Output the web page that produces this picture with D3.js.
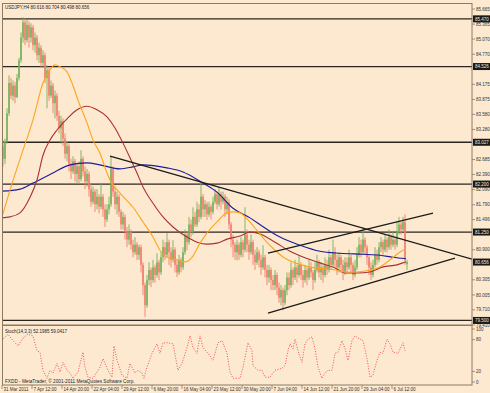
<!DOCTYPE html>
<html>
<head>
<meta charset="utf-8">
<script src="https://cdn.jsdelivr.net/npm/d3@7"></script>
<style>
  body { margin: 0; background: #fde9cf; }
  text { font-family: "Liberation Sans", Arial, sans-serif; }
</style>
</head>
<body>
<svg id="chart" width="490" height="393"></svg>
<script>
// USDJPY H4 candles: [open, high, low, close]
const candles = [
  [82.95,83.07,82.55,82.70],[82.70,83.10,82.60,83.05],[83.05,83.70,83.00,83.60],[83.60,84.35,83.55,84.20],
  [84.20,84.30,83.88,83.95],[83.95,84.25,83.85,84.15],[84.15,84.22,83.80,83.92],[83.92,84.38,83.90,84.30],
  [84.30,84.70,84.25,84.65],[84.65,85.20,84.60,85.10],[85.10,85.50,85.00,85.40],[85.40,85.48,84.95,85.05],
  [85.05,85.45,85.00,85.35],[85.35,85.42,84.90,85.10],[85.10,85.38,85.00,85.30],[85.30,85.35,84.85,84.95],
  [84.95,85.20,84.80,85.10],[85.10,85.15,84.65,84.75],[84.75,85.00,84.60,84.90],[84.90,84.95,84.50,84.60],
  [84.60,84.85,84.50,84.75],[84.75,84.80,84.20,84.30],[84.30,84.55,83.70,84.45],[84.45,84.50,83.85,83.95],
  [83.95,84.25,83.90,84.15],[84.15,84.20,83.60,83.80],[83.80,84.05,83.50,83.95],[83.95,84.00,83.45,83.55],
  [83.55,83.65,83.20,83.30],[83.30,83.55,83.00,83.45],[83.45,83.50,82.95,83.10],[83.10,83.20,82.70,82.80],
  [82.80,83.05,82.65,82.95],[82.95,83.00,82.45,82.60],[82.60,82.70,82.30,82.45],[82.45,82.75,82.40,82.65],
  [82.65,82.70,82.25,82.40],[82.40,82.60,82.20,82.55],[82.55,82.65,82.20,82.30],[82.30,82.87,82.25,82.70],
  [82.70,82.75,82.35,82.45],[82.45,82.55,82.10,82.25],[82.25,82.50,82.15,82.40],[82.40,82.45,81.95,82.10],
  [82.10,82.20,81.75,81.85],[81.85,82.15,81.80,82.05],[82.05,82.10,81.65,81.80],[81.80,82.10,81.70,81.95],
  [81.95,82.00,81.62,81.75],[81.75,82.22,81.70,81.95],[81.95,82.00,81.55,81.70],[81.70,81.80,81.35,81.50],
  [81.50,81.80,81.45,81.70],[81.70,81.95,81.60,81.80],[81.80,82.75,81.75,82.50],[82.50,82.55,81.95,82.05],
  [82.05,82.15,81.70,81.80],[81.80,82.05,81.60,81.95],[81.95,82.00,81.55,81.65],[81.65,81.70,81.30,81.40],
  [81.40,81.65,81.30,81.55],[81.55,81.60,81.10,81.25],[81.25,81.35,80.95,81.10],[81.10,81.40,81.00,81.25],
  [81.25,81.30,80.90,81.00],[81.00,81.10,80.75,80.85],[80.85,81.15,80.80,81.00],[81.00,81.05,80.70,80.80],
  [80.80,81.00,80.70,80.95],[80.95,81.00,80.45,80.60],[80.60,80.65,80.00,80.20],[80.20,80.25,79.57,79.80],
  [79.80,80.40,79.75,80.30],[80.30,80.65,80.20,80.50],[80.50,80.55,80.16,80.30],[80.30,80.70,80.25,80.55],
  [80.55,80.60,80.25,80.40],[80.40,80.83,80.35,80.65],[80.65,80.70,80.30,80.45],[80.45,80.85,80.40,80.75],
  [80.75,81.10,80.65,80.95],[80.95,81.05,80.70,80.80],[80.80,81.23,80.75,81.05],[81.05,81.10,80.60,80.85],
  [80.85,80.95,80.55,80.70],[80.70,81.09,80.65,80.90],[80.90,80.95,80.45,80.60],[80.60,80.70,80.36,80.45],
  [80.45,80.80,80.40,80.70],[80.70,80.75,80.45,80.55],[80.55,80.95,80.50,80.85],[80.85,81.30,80.80,81.20],
  [81.20,81.25,80.89,81.05],[81.05,81.55,81.00,81.40],[81.40,81.50,81.15,81.25],[81.25,81.74,81.20,81.55],
  [81.55,81.65,81.35,81.40],[81.40,81.85,81.35,81.70],[81.70,81.80,81.45,81.55],[81.55,82.22,81.50,81.95],
  [81.95,82.00,81.55,81.70],[81.70,81.88,81.55,81.80],[81.80,81.85,81.49,81.60],[81.60,81.85,81.55,81.75],
  [81.75,81.80,81.50,81.65],[81.65,81.95,81.60,81.85],[81.85,82.10,81.80,82.00],[82.00,82.05,81.70,81.80],
  [81.80,82.14,81.75,82.00],[82.00,82.05,81.70,81.85],[81.85,82.05,81.80,81.95],[81.95,82.00,81.55,81.70],
  [81.70,81.95,81.60,81.85],[81.85,81.90,81.30,81.40],[81.40,81.45,80.95,81.10],[81.10,81.20,80.75,81.00],
  [81.00,81.05,80.70,80.85],[80.85,81.10,80.69,81.00],[81.00,81.05,80.70,80.80],[80.80,81.15,80.75,81.05],
  [81.05,81.10,80.75,80.90],[80.90,81.74,80.85,81.20],[81.20,81.30,80.85,81.00],[81.00,81.10,80.70,80.85],
  [80.85,81.20,80.80,81.05],[81.05,81.10,80.60,80.80],[80.80,80.90,80.50,80.65],[80.65,80.95,80.60,80.85],
  [80.85,80.90,80.55,80.70],[80.70,80.80,80.40,80.55],[80.55,80.99,80.50,80.75],[80.75,80.80,80.35,80.50],
  [80.50,80.60,80.20,80.35],[80.35,80.60,80.25,80.50],[80.50,80.55,80.10,80.30],[80.30,80.40,80.10,80.20],
  [80.20,80.50,80.10,80.40],[80.40,80.45,80.00,80.15],[80.15,80.25,79.85,79.95],[79.95,80.20,79.80,80.10],
  [80.10,80.15,79.70,79.85],[79.85,80.20,79.80,80.10],[80.10,80.45,80.00,80.35],[80.35,80.45,80.10,80.20],
  [80.20,80.65,80.15,80.50],[80.50,80.55,80.20,80.35],[80.35,80.70,80.30,80.55],[80.55,80.60,80.25,80.40],
  [80.40,80.79,80.35,80.60],[80.60,80.65,80.30,80.40],[80.40,80.50,80.15,80.30],[80.30,80.60,80.25,80.50],
  [80.50,80.55,80.20,80.35],[80.35,80.70,80.30,80.55],[80.55,80.65,80.35,80.45],[80.45,80.50,80.10,80.30],
  [80.30,80.65,80.25,80.50],[80.50,80.80,80.45,80.65],[80.65,80.70,80.35,80.45],[80.45,80.65,80.30,80.55],
  [80.55,80.60,80.25,80.40],[80.40,80.75,80.35,80.60],[80.60,80.70,80.40,80.50],[80.50,80.90,80.45,80.75],
  [80.75,80.80,80.50,80.60],[80.60,81.10,80.55,80.85],[80.85,80.95,80.55,80.70],[80.70,80.80,80.40,80.55],
  [80.55,80.85,80.45,80.75],[80.75,80.80,80.45,80.60],[80.60,80.70,80.30,80.45],[80.45,80.75,80.40,80.65],
  [80.65,80.75,80.45,80.55],[80.55,80.90,80.50,80.75],[80.75,80.80,80.45,80.60],[80.60,80.65,80.30,80.40],
  [80.40,80.70,80.35,80.55],[80.55,80.95,80.50,80.80],[80.80,81.15,80.75,81.00],[81.00,81.10,80.75,80.85],
  [80.85,81.35,80.80,81.10],[81.10,81.15,80.80,80.95],[80.95,81.00,80.60,80.75],[80.75,80.80,80.40,80.55],
  [80.55,80.65,80.30,80.40],[80.40,80.70,80.35,80.60],[80.60,80.95,80.55,80.80],[80.80,80.90,80.60,80.70],
  [80.70,81.05,80.65,80.95],[80.95,81.15,80.85,81.05],[81.05,81.10,80.80,80.90],[80.90,81.20,80.85,81.10],
  [81.10,81.15,80.85,80.95],[80.95,81.30,80.90,81.15],[81.15,81.20,80.90,81.00],[81.00,81.25,80.95,81.10],
  [81.10,81.15,80.90,81.00],[81.00,81.45,80.95,81.25],[81.25,81.55,81.20,81.40],[81.40,81.45,81.20,81.30],
  [81.30,81.55,81.25,81.45],[81.45,81.60,80.60,80.70],[80.616,80.704,80.498,80.656]
];

// moving averages: [bar index, price]
const maFast = [[-0.5,81.55],[3.5,82.08],[10,82.87],[15,83.47],[20,84.20],[23.5,84.46],[26,84.56],[28.5,84.52],
  [32,84.42],[34.5,84.20],[37.5,83.86],[42,83.41],[45,83.07],[48.5,82.81],[52,82.42],[53.5,82.28],[58.5,82.02],
  [65,81.74],[70,81.45],[75,81.15],[78.5,80.89],[82,80.75],[87,80.70],[91,80.66],[94.5,80.75],[98.5,81.03],
  [102,81.23],[107,81.45],[112,81.63],[115,81.65],[118.5,81.63],[122.5,81.49],[126,81.33],[131,81.09],
  [136,80.89],[141,80.73],[146,80.64],[151,80.58],[156,80.54],[161,80.52],[166,80.50],[171,80.46],
  [176,80.46],[181,80.48],[188.5,80.56],[194.5,80.73],[200,80.89],[201.5,80.91]];
const maMid = [[-0.5,81.53],[3.5,81.55],[8.5,81.63],[13.5,81.94],[17,82.28],[20,82.77],[23.5,83.07],[27,83.27],
  [32,83.49],[37,83.67],[42,83.74],[47,83.67],[52,83.53],[56,83.31],[60,83.01],[63.5,82.72],[67,82.42],
  [70,82.14],[75,81.82],[80,81.55],[85,81.35],[92,81.15],[97,81.05],[102,81.01],[107,81.03],[112,81.11],
  [118.5,81.17],[123.5,81.25],[128.5,81.21],[136,81.05],[143.5,80.87],[151,80.74],[158.5,80.64],[166,80.54],
  [171,80.44],[177,80.44],[183.5,80.46],[190,80.56],[197,80.60],[201.5,80.66]];
const maSlow = [[-0.5,82.06],[8.5,82.10],[15,82.22],[25,82.42],[33.5,82.58],[42,82.62],[48.5,82.58],[58.5,82.50],
  [65,82.54],[70,82.58],[82,82.52],[90,82.44],[100,82.22],[107,82.04],[115,81.72],[123.5,81.53],[131,81.33],
  [138.5,81.15],[148.5,80.99],[158.5,80.87],[168.5,80.83],[180,80.81],[188.5,80.79],[195,80.75],[201.5,80.72]];

// trend lines: [[bar, price], [bar, price]]
const trendLines = [
  [[53.5,82.754],[234.5,80.715]],
  [[132.5,79.645],[226,80.734]],
  [[132.5,80.833],[215,81.625]]
];
const hLevels = [85.470, 84.526, 83.027, 82.200, 81.250, 79.500];
const markedPrices = [85.470, 84.526, 83.027, 82.200, 81.250, 80.656, 79.500];
const priceTicks = [85.665, 85.365, 85.070, 84.770, 84.175, 83.875, 83.580, 83.280, 82.685, 82.390,
  82.090, 81.790, 81.496, 80.900, 80.305, 80.005, 79.710, 79.410];

// stochastic signal line: [bar index, value]
const stoch = [[0,81],[2.5,90],[5,78],[7.5,68],[10,83],[12.5,90],[15,87],[17,59],[18.5,56],[20,22],[22,7],
  [23.5,22],[25,17],[27,35],[28.5,19],[30,37],[32,22],[33.5,17],[35,7],[37.5,19],[40,56],[41,28],[42.5,9],
  [45,7],[48.5,28],[50,44],[52.5,22],[54.5,9],[55.5,68],[57,41],[59.5,13],[62,7],[63.5,35],[66,17],[67.5,22],
  [69.5,17],[70.5,7],[72,28],[74.5,54],[77,72],[78.5,54],[80,74],[82.5,74],[85,72],[87.5,22],[89.5,35],
  [92,65],[93.5,87],[95,65],[97,54],[98.5,87],[100,65],[102.5,54],[105,41],[107.5,74],[109.5,78],[112,54],
  [113.5,19],[115,7],[118.5,7],[120,28],[122.5,74],[124.5,59],[125,31],[127.5,22],[129.5,22],[131,9],
  [133.5,9],[136,22],[139.5,26],[141,31],[142.5,59],[143.5,72],[145,63],[146,81],[147.5,59],[149.5,37],
  [151,72],[152.5,81],[154.5,85],[156,63],[157.5,28],[159.5,7],[161,17],[162.5,22],[164.5,22],[166,54],
  [167.5,56],[169.5,78],[171,63],[172.5,41],[174.5,78],[176,87],[177.5,83],[180,78],[182,44],[183.5,9],
  [185,13],[187,41],[188.5,56],[190,54],[192,81],[193.5,72],[195,56],[197.5,54],[200,74],[201,59]];
const stochTicks = [100, 80, 20, 0];

const timeLabels = ["31 Mar 2011","7 Apr 12:00","14 Apr 20:00","22 Apr 04:00","29 Apr 12:00","6 May 20:00",
  "16 May 04:00","23 May 12:00","30 May 20:00","7 Jun 04:00","14 Jun 12:00","21 Jun 20:00","29 Jun 04:00","6 Jul 12:00"];
const timeLabelBars = [0,15,30,45,60,75,90,105,120,135,150,165,180,195];

const svg = d3.select("#chart");
const bg = "#fde9cf", frame = "#8c7b64";

const x = d3.scaleLinear().domain([0, 234.5]).range([3, 472]);
const y = d3.scaleLinear().domain([79.410, 85.665]).range([325, 9]);
const ys = d3.scaleLinear().domain([0, 100]).range([382, 329]);

svg.append("rect").attr("width", 490).attr("height", 393).attr("fill", bg);

svg.append("clipPath").attr("id", "mainClip")
  .append("rect").attr("x", 2).attr("y", 3).attr("width", 470).attr("height", 322);
svg.append("clipPath").attr("id", "subClip")
  .append("rect").attr("x", 2).attr("y", 326).attr("width", 470).attr("height", 59);

const main = svg.append("g").attr("clip-path", "url(#mainClip)");

// horizontal levels
main.selectAll("line.level").data(hLevels).enter().append("line")
  .attr("class", "level")
  .attr("x1", 2).attr("x2", 472)
  .attr("y1", d => y(d)).attr("y2", d => y(d))
  .attr("stroke", "#2b2520").attr("stroke-width", 1.3);

// candles
const cg = main.append("g");
candles.forEach((c, i) => {
  const col = c[3] >= c[0] ? "#73b05a" : "#f27b6e";
  cg.append("line")
    .attr("x1", x(i)).attr("x2", x(i))
    .attr("y1", y(c[1])).attr("y2", y(c[2]))
    .attr("stroke", col).attr("stroke-width", 0.9);
  const top = y(Math.max(c[0], c[3])), bot = y(Math.min(c[0], c[3]));
  cg.append("rect")
    .attr("x", x(i) - 0.75).attr("width", 1.5)
    .attr("y", top).attr("height", Math.max(0.8, bot - top))
    .attr("fill", col);
});

// moving averages
const maLine = d3.line().x(d => x(d[0])).y(d => y(d[1])).curve(d3.curveMonotoneX);
[[maSlow, "#1c1c9a"], [maMid, "#a83232"], [maFast, "#ffa41c"]].forEach(([data, col]) => {
  main.append("path").datum(data)
    .attr("d", maLine)
    .attr("fill", "none").attr("stroke", col).attr("stroke-width", 1.1);
});

// trend lines
main.selectAll("line.trend").data(trendLines).enter().append("line")
  .attr("class", "trend")
  .attr("x1", d => x(d[0][0])).attr("y1", d => y(d[0][1]))
  .attr("x2", d => x(d[1][0])).attr("y2", d => y(d[1][1]))
  .attr("stroke", "#1a1a1a").attr("stroke-width", 1.2);

// frames
svg.append("rect").attr("x", 2.5).attr("y", 3.5).attr("width", 469.5).attr("height", 321.5)
  .attr("fill", "none").attr("stroke", frame).attr("stroke-width", 1);
svg.append("rect").attr("x", 2.5).attr("y", 325.5).attr("width", 469.5).attr("height", 59.5)
  .attr("fill", "none").attr("stroke", frame).attr("stroke-width", 1);

// header
svg.append("text").attr("x", 5).attr("y", 9).attr("font-size", 4.5).attr("fill", "#222")
  .text("USDJPY,H4  80.616 80.704 80.498 80.656");

// price axis
const pa = svg.append("g");
priceTicks.forEach(p => {
  pa.append("line").attr("x1", 472).attr("x2", 475).attr("y1", y(p)).attr("y2", y(p))
    .attr("stroke", frame).attr("stroke-width", 0.8);
  pa.append("text").attr("x", 476).attr("y", y(p) + 1.6).attr("font-size", 4.5).attr("fill", "#333")
    .text(p.toFixed(3));
});
markedPrices.forEach(p => {
  pa.append("rect").attr("x", 473).attr("y", y(p) - 3.5).attr("width", 17).attr("height", 7).attr("fill", "#1a1a1a");
  pa.append("text").attr("x", 475).attr("y", y(p) + 1.7).attr("font-size", 4.5).attr("fill", bg)
    .text(p.toFixed(3));
});

// stochastic sub window
const sub = svg.append("g").attr("clip-path", "url(#subClip)");
sub.append("path").datum(stoch)
  .attr("d", d3.line().x(d => x(d[0])).y(d => ys(d[1])))
  .attr("fill", "none").attr("stroke", "#f05050").attr("stroke-width", 1)
  .attr("stroke-dasharray", "1,1.6");
svg.append("text").attr("x", 5).attr("y", 333).attr("font-size", 4.5).attr("fill", "#222")
  .text("Stoch(14,3,3) 52.1985 59.0417");
stochTicks.forEach(v => {
  svg.append("line").attr("x1", 472).attr("x2", 475).attr("y1", ys(v)).attr("y2", ys(v))
    .attr("stroke", frame).attr("stroke-width", 0.8);
  svg.append("text").attr("x", 476).attr("y", ys(v) + 1.6).attr("font-size", 4.5).attr("fill", "#333").text(v);
});
svg.append("text").attr("x", 5).attr("y", 383).attr("font-size", 4.7).attr("fill", "#222")
  .text("FXDD - MetaTrader, \u00a9 2001-2011 MetaQuotes Software Corp.");

// time axis
timeLabelBars.forEach((b, k) => {
  svg.append("line").attr("x1", x(b) - 1).attr("x2", x(b) - 1).attr("y1", 385).attr("y2", 389)
    .attr("stroke", frame).attr("stroke-width", 0.8);
  svg.append("text").attr("x", x(b) + 0.5).attr("y", 390.5).attr("font-size", 4.5).attr("fill", "#333")
    .text(timeLabels[k]);
});
</script>
</body>
</html>
